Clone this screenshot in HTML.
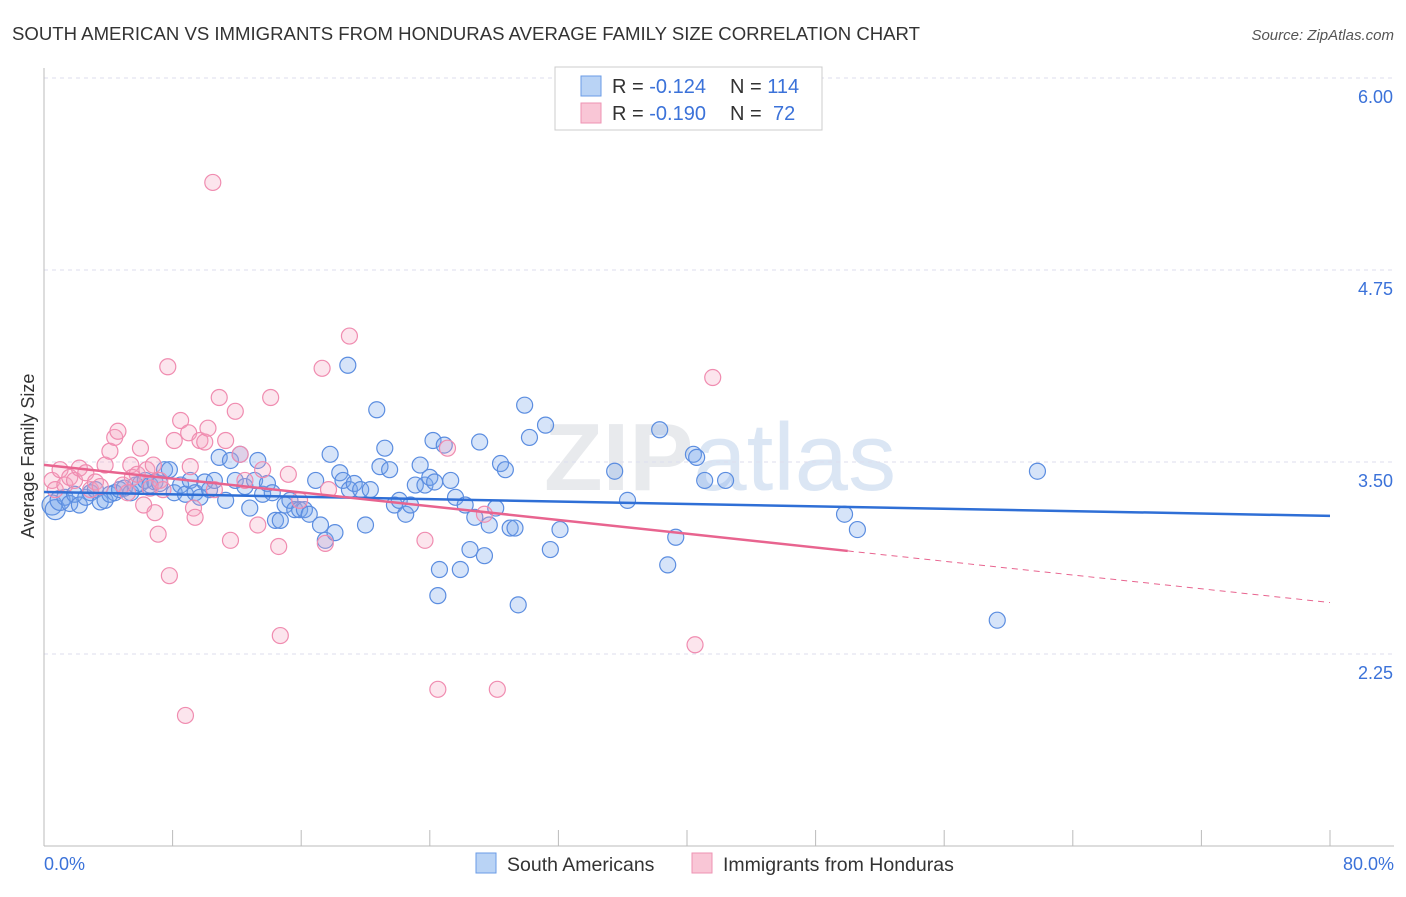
<!DOCTYPE html>
<html><head><meta charset="utf-8"><style>
body{margin:0;background:#fff;font-family:"Liberation Sans",sans-serif}
svg text{font-family:"Liberation Sans",sans-serif}
</style></head><body>
<svg id="chart" width="1406" height="892" viewBox="0 0 1406 892">
<text x="12" y="40" font-size="18" fill="#333" textLength="908" lengthAdjust="spacingAndGlyphs">SOUTH AMERICAN VS IMMIGRANTS FROM HONDURAS AVERAGE FAMILY SIZE CORRELATION CHART</text>
<text x="1394" y="40" font-size="15" fill="#555" font-style="italic" text-anchor="end">Source: ZipAtlas.com</text>
<text x="720" y="490" font-size="96" fill="#e8eaed" text-anchor="middle" font-family="Liberation Serif" font-weight="bold">ZIP<tspan font-family="Liberation Sans" font-weight="normal" fill="#dbe6f4">atlas</tspan></text>
<g id="grid"></g><g id="axes"></g><g id="pts"></g><g id="lines"></g>
<text transform="translate(34,456) rotate(-90)" font-size="18" fill="#333" text-anchor="middle">Average Family Size</text>
<text x="44" y="870" font-size="18" fill="#3b72d9">0.0%</text>
<text x="1394" y="870" font-size="18" fill="#3b72d9" text-anchor="end">80.0%</text>
<g>
<rect x="555" y="67" width="267" height="63" fill="#fff" stroke="#ccc"/>
<rect x="581" y="76" width="20" height="20" fill="#b9d3f5" stroke="#6a9be6"/>
<rect x="581" y="103" width="20" height="20" fill="#f9c6d6" stroke="#ee93b3"/>
<text x="612" y="93" font-size="20" fill="#333">R = <tspan fill="#3b72d9">-0.124</tspan></text>
<text x="730" y="93" font-size="20" fill="#333">N = <tspan fill="#3b72d9">114</tspan></text>
<text x="612" y="120" font-size="20" fill="#333">R = <tspan fill="#3b72d9">-0.190</tspan></text>
<text x="730" y="120" font-size="20" fill="#333">N = <tspan fill="#3b72d9" x="773">72</tspan></text>
</g>
<g>
<rect x="476" y="853" width="20" height="20" fill="#b9d3f5" stroke="#6a9be6"/>
<text x="507" y="871" font-size="19.5" fill="#333">South Americans</text>
<rect x="692" y="853" width="20" height="20" fill="#f9c6d6" stroke="#ee93b3"/>
<text x="723" y="871" font-size="19.5" fill="#333">Immigrants from Honduras</text>
</g>
</svg>
<script>
const yTicks=[6.00,4.75,3.50,2.25];
const xTickVals=[0,8,16,24,32,40,48,56,64,72,80];
const blueX=[0.5,0.7,1.0,1.3,1.6,1.9,2.2,2.6,2.9,3.2,3.5,3.8,4.1,4.4,4.7,5.0,5.4,5.7,6.0,6.3,6.6,6.9,7.2,7.5,7.8,8.1,8.5,8.8,9.1,9.4,9.7,10.0,10.3,10.6,10.9,11.3,11.6,11.9,12.2,12.5,12.8,13.1,13.3,13.6,13.9,14.2,14.4,14.7,15.0,15.3,15.6,15.9,16.2,16.5,16.9,17.2,17.5,17.8,18.1,18.4,18.6,18.9,19.0,19.3,19.7,20.0,20.3,20.7,20.9,21.2,21.5,21.8,22.1,22.5,22.8,23.1,23.4,23.7,24.0,24.2,24.3,24.5,24.6,24.9,25.3,25.6,25.9,26.2,26.5,26.8,27.1,27.4,27.7,28.1,28.4,28.7,29.0,29.3,29.5,29.9,30.2,31.2,31.5,32.1,35.5,36.3,38.3,38.8,39.3,40.4,40.6,41.1,42.4,49.8,50.6,59.3,61.8];
const blueY=[3.22,3.19,3.25,3.27,3.23,3.29,3.22,3.27,3.30,3.32,3.24,3.25,3.29,3.30,3.32,3.33,3.30,3.35,3.36,3.38,3.35,3.37,3.36,3.45,3.45,3.30,3.35,3.29,3.38,3.30,3.27,3.37,3.32,3.38,3.53,3.25,3.51,3.38,3.55,3.34,3.20,3.38,3.51,3.29,3.36,3.30,3.12,3.12,3.22,3.25,3.19,3.19,3.19,3.16,3.38,3.09,2.99,3.55,3.04,3.43,3.38,4.13,3.32,3.36,3.32,3.09,3.32,3.84,3.47,3.59,3.45,3.22,3.25,3.16,3.22,3.35,3.48,3.35,3.40,3.64,3.37,2.63,2.80,3.61,3.38,3.27,2.80,3.22,2.93,3.14,3.63,2.89,3.09,3.20,3.49,3.45,3.07,3.07,2.57,3.87,3.66,3.74,2.93,3.06,3.44,3.25,3.71,2.83,3.01,3.55,3.53,3.38,3.38,3.16,3.06,2.47,3.44];
const pinkX=[0.5,0.7,1.0,1.3,1.6,1.9,2.2,2.6,2.9,3.2,3.5,3.8,4.1,4.4,4.6,4.9,5.2,5.4,5.5,5.8,6.0,6.2,6.4,6.6,6.8,6.9,7.1,7.2,7.4,7.7,7.8,8.1,8.5,8.8,9.0,9.1,9.3,9.4,9.7,10.0,10.2,10.5,10.6,10.9,11.3,11.6,11.9,12.2,12.5,13.3,13.6,14.1,14.6,14.7,15.2,15.9,17.3,17.5,17.7,19.0,23.7,24.5,25.1,27.4,28.2,40.5,41.6];
const pinkY=[3.38,3.32,3.45,3.35,3.40,3.38,3.46,3.43,3.32,3.37,3.34,3.48,3.57,3.66,3.70,3.35,3.30,3.48,3.40,3.42,3.59,3.22,3.45,3.33,3.48,3.17,3.03,3.38,3.32,4.12,2.76,3.64,3.77,1.85,3.69,3.47,3.20,3.14,3.64,3.63,3.72,5.32,3.32,3.92,3.64,2.99,3.83,3.55,3.38,3.09,3.45,3.92,2.95,2.37,3.42,3.25,4.11,2.97,3.32,4.32,2.99,2.02,3.59,3.16,2.02,2.31,4.05];
const blueTrend=[3.305,3.149];
const pinkTrend=[3.481,2.585];
const pinkSolidEnd=50;
const X=v=>44+v/80*1286, Y=v=>846-(v-1)*153.6;
const NS='http://www.w3.org/2000/svg';
function mk(tag,attrs,parent){const e=document.createElementNS(NS,tag);for(const k in attrs)e.setAttribute(k,attrs[k]);document.getElementById(parent).appendChild(e);return e;}
yTicks.forEach(t=>{
 const l=mk('line',{x1:44,x2:1394,y1:Y(t),y2:Y(t),stroke:'#dde',"stroke-dasharray":'4,4'},'grid');
 
 
 const tx=mk('text',{x:1393,y:Y(t)+25,"font-size":18,fill:'#3b72d9',"text-anchor":'end'},'grid');
 tx.textContent=t.toFixed(2);
 
 
});
const ax=mk('line',{x1:44,x2:44,y1:68,y2:846,stroke:'#bbb'},'axes');


const bx=mk('line',{x1:44,x2:1394,y1:846,y2:846,stroke:'#bbb'},'axes');


xTickVals.forEach(t=>{
 const l=mk('line',{x1:X(t),x2:X(t),y1:830,y2:846,stroke:'#bbb'},'axes');
 
 
});
blueX.forEach((x,i)=>{
 const c=mk('circle',{cx:X(x),cy:Y(blueY[i]),r:x<1.2?10:8,fill:'rgba(120,165,235,0.3)',stroke:'#5b8de0',"stroke-width":1.2},'pts');
 
 
});
pinkX.forEach((x,i)=>{
 const c=mk('circle',{cx:X(x),cy:Y(pinkY[i]),r:8,fill:'rgba(245,160,190,0.28)',stroke:'#f08cb0',"stroke-width":1.2},'pts');
 
 
});
const bl=mk('line',{x1:X(0),y1:Y(blueTrend[0]),x2:X(80),y2:Y(blueTrend[1]),stroke:'#2f6fd6',"stroke-width":2.5},'lines');


const pe=pinkTrend[0]+(pinkTrend[1]-pinkTrend[0])*pinkSolidEnd/80;
const pl=mk('line',{x1:X(0),y1:Y(pinkTrend[0]),x2:X(pinkSolidEnd),y2:Y(pe),stroke:'#e8648f',"stroke-width":2.5},'lines');


const pd=mk('line',{x1:X(pinkSolidEnd),y1:Y(pe),x2:X(80),y2:Y(pinkTrend[1]),stroke:'#e8648f',"stroke-width":1,"stroke-dasharray":'6,5'},'lines');


</script>
</body></html>
